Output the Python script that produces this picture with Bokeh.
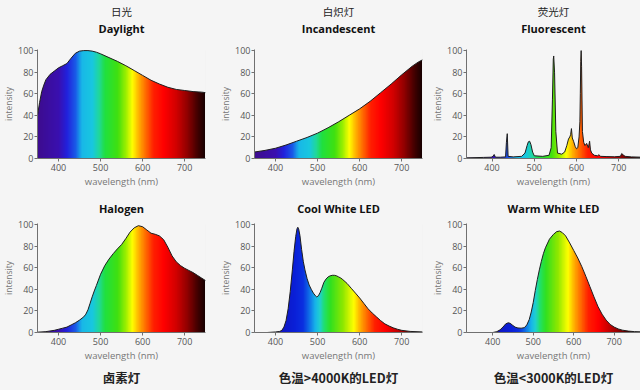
import numpy as np
from bokeh.plotting import figure
from bokeh.models import Range1d, FixedTicker, Title
from bokeh.layouts import gridplot
from bokeh.embed import file_html
from bokeh.resources import INLINE

# ---------------- data ----------------
daylight_wl = [350, 355, 360, 365, 370, 380, 390, 400, 410, 420, 430, 440, 450, 460, 470, 480, 490,
               500, 520, 540, 560, 580, 600, 620, 640, 660, 680, 700, 720, 740, 750]
daylight_val = [40, 52, 62, 68, 73, 78, 81, 84, 86, 88, 93, 97.5, 99.5, 100, 100, 99.5, 98.5,
                97, 93.5, 90, 86, 81.5, 77, 72.5, 69, 66, 64, 63, 62, 61.5, 61]

incand_wl = [350, 375, 400, 425, 450, 475, 500, 525, 550, 575, 600, 625, 650, 675, 700, 725, 740, 750]
incand_val = [6, 7.5, 9.5, 12.5, 16, 19.5, 23.5, 28.5, 34, 40, 46, 53, 61, 69, 77.5, 85.5, 89.5, 91.5]

fluor_wl = [330, 380, 398, 402, 405, 408, 420, 432, 434, 436, 438, 450, 470, 478, 483, 486, 489, 492,
            496, 500, 520, 535, 540, 543, 545, 546, 548, 551, 555, 565, 572, 577, 581, 584, 586, 588,
            590, 593, 597, 600, 603, 606, 608, 609, 610, 611, 612, 614, 617, 620, 624, 628, 631, 633,
            636, 642, 650, 653, 657, 670, 690, 704, 707, 710, 715, 730, 770]
fluor_val = [0.5, 1, 1.2, 2, 3.7, 1.2, 1.2, 1.5, 15, 23, 2, 1.5, 2, 5, 12, 15.5, 16, 13,
             6, 2.5, 2, 3, 10, 55, 92, 95, 80, 25, 5, 4, 6, 12, 18, 20, 22, 27.7,
             19, 16, 11, 9, 10, 20, 34, 60, 90, 100, 85, 25, 15, 12, 14, 10, 16, 8,
             5, 3, 2.5, 3.5, 2, 1.8, 1.6, 2, 4.6, 3.5, 2, 1.5, 1]

halogen_wl = [350, 370, 390, 400, 410, 420, 430, 440, 450, 460, 465, 470, 475, 480, 485, 490, 500,
              510, 520, 530, 540, 550, 560, 570, 580, 590, 600, 610, 620, 630, 640, 650, 660, 670,
              680, 690, 700, 710, 720, 730, 740, 750]
halogen_val = [0.3, 0.8, 2, 3, 4, 5, 7, 9, 11.5, 14.5, 17, 21, 27, 33, 38.5, 43.5, 54,
               62, 68, 73, 77.5, 81.5, 87, 93, 97, 99, 98, 95, 92, 91, 89.5, 86, 79, 71,
               65.5, 62, 59.5, 57.5, 55.5, 53, 50.5, 48]

cool_wl = [350, 380, 400, 410, 415, 420, 425, 430, 435, 440, 444, 448, 451, 453, 455, 458, 462, 466,
           470, 475, 480, 485, 490, 495, 498, 502, 506, 510, 515, 520, 525, 530, 535, 540, 545, 550,
           555, 560, 570, 580, 590, 600, 610, 620, 630, 640, 650, 660, 670, 680, 690, 700, 720, 750]
cool_val = [0, 0, 0.5, 1, 2, 5, 11, 22, 38, 58, 75, 89, 96, 97.5, 96, 90, 77, 66,
            58, 50, 44, 40, 36.5, 34, 33, 34, 37, 41, 46.5, 49.5, 51.5, 52.5, 53, 53, 52.5, 51.5,
            50.5, 49, 45.5, 41, 36.5, 32, 27, 22, 18, 14.5, 11, 8, 6, 4.3, 3, 2, 1, 0.5]

warm_wl = [330, 380, 400, 410, 418, 425, 432, 438, 443, 448, 455, 462, 470, 478, 484, 490, 495, 500,
           505, 510, 515, 520, 525, 530, 540, 550, 558, 565, 572, 580, 590, 600, 610, 620, 630, 640,
           650, 660, 670, 680, 690, 700, 710, 720, 735, 750, 770]
warm_val = [0, 0, 0, 0.8, 2.5, 5, 8, 9, 8.5, 7, 5, 4.2, 4, 4.5, 7, 12, 19, 28,
            39, 49, 58, 66, 73, 78.5, 86.5, 91, 93.5, 94, 92.5, 89.5, 83, 76, 69, 61, 52, 42.5,
            33, 24, 17, 11.5, 7.5, 5, 3.3, 2.2, 1.3, 0.8, 0.5]

x_ticks = [400, 500, 600, 700]
y_ticks = [0, 20, 40, 60, 80, 100]

# colour of the visible spectrum (style): lamps and LED panels use slightly different palettes
lamp_stop_wl = [330, 350, 400, 420, 440, 455, 480, 495, 510, 540, 560, 575, 590, 605, 625, 650, 680, 705, 730, 750, 770]
lamp_stop_hex = ["#3d0c8f", "#3d0c8f", "#3a10b0", "#2222dd", "#1a5ae8", "#18b8e8", "#18c8e0", "#20d8a0",
                 "#20e040", "#40e010", "#a0f000", "#ffff00", "#ffb000", "#ff7000", "#ff2000", "#ff0000",
                 "#d00000", "#900000", "#400000", "#100000", "#100000"]
led_stop_wl = [330, 400, 420, 445, 465, 480, 495, 505, 515, 530, 560, 585, 600, 615, 635, 660, 690, 715, 740, 760, 770]
led_stop_hex = ["#1a0a80", "#1a10a0", "#1018c8", "#0a20d8", "#0a30e0", "#1070e8", "#18b8e8", "#20d0d0",
                "#20e070", "#30e020", "#90e800", "#ffff00", "#ffb000", "#ff7000", "#ff2000", "#ff0000",
                "#c00000", "#800000", "#300000", "#100000", "#100000"]

BG = "#f5f5f5"
FONT = "Open Sans"
ZH_FONT = "Noto Sans CJK SC"
YTOP = 101
LEFT = 32


def spectrum_strip(x0, x1, stop_wl, stop_hex, n=400):
    """1-row RGBA image of the spectrum colours between x0 and x1 (colour styling only)."""
    stop_rgb = np.array([[int(h[i:i + 2], 16) for i in (1, 3, 5)] for h in stop_hex], dtype=float)
    cols = x0 + (np.arange(n) + 0.5) * (x1 - x0) / n
    strip = np.zeros((1, n, 4), dtype=np.uint8)
    for c in range(3):
        strip[0, :, c] = np.interp(cols, stop_wl, stop_rgb[:, c]).astype(np.uint8)
    strip[0, :, 3] = 255
    return strip.view(dtype=np.uint32).reshape((1, n))


def panel(wl, val, xr, width, right_border, title_en, title_zh, top_row, led=False):
    p = figure(width=width, height=190 if top_row else 200,
               x_range=Range1d(*xr), y_range=Range1d(0, YTOP),
               output_backend="svg", toolbar_location=None,
               background_fill_color=BG, border_fill_color=BG,
               min_border_left=LEFT, min_border_right=right_border,
               min_border_top=49 if top_row else 33,
               min_border_bottom=32 if top_row else 58)
    p.styles = {"background-color": BG}
    p.outline_line_color = None
    p.grid.visible = False

    # colour strip stops half a pixel short of the frame's right edge so that the
    # mask fully hides it above the curve (avoids a faint edge line)
    frame_w = width - LEFT - right_border
    inset = 0.5 * (xr[1] - xr[0]) / frame_w
    x_end = xr[1] - inset
    stops = (led_stop_wl, led_stop_hex) if led else (lamp_stop_wl, lamp_stop_hex)
    p.image_rgba(image=[spectrum_strip(xr[0], x_end, *stops)], x=xr[0], y=0, dw=x_end - xr[0], dh=100)
    p.varea(x=wl, y1=val, y2=[YTOP + 50] * len(wl), fill_color=BG)
    p.line(wl, val, line_color="#1e1e1e", line_width=1)

    p.xaxis.ticker = FixedTicker(ticks=x_ticks)
    p.yaxis.ticker = FixedTicker(ticks=y_ticks)
    for ax in (p.xaxis[0], p.yaxis[0]):
        ax.axis_line_color = "#707070"
        ax.major_tick_line_color = "#707070"
        ax.major_tick_out = 3
        ax.major_tick_in = 0
        ax.minor_tick_line_color = None
        ax.major_label_text_font = FONT
        ax.major_label_text_font_size = "9px"
        ax.major_label_text_color = "#555555"
        ax.axis_label_text_font = FONT
        ax.axis_label_text_font_style = "normal"
        ax.axis_label_text_color = "#777777"
    p.xaxis.axis_label = "wavelength (nm)"
    p.xaxis.axis_label_text_font_size = "9.5px"
    p.xaxis.major_label_standoff = 2
    p.xaxis.axis_label_standoff = 1
    p.yaxis.axis_label = "intensity"
    p.yaxis.axis_label_text_font_size = "8.5px"
    p.yaxis.major_label_standoff = 1
    p.yaxis.axis_label_standoff = 1

    # spacer between frame and the English title
    p.add_layout(Title(text=" ", text_font_size="11.5px" if top_row else "5px", standoff=0), "above")
    p.add_layout(Title(text=title_en, align="center", text_font=FONT, text_font_size="11px",
                       text_font_style="bold", text_color="#111111", standoff=0), "above")
    if top_row:
        p.add_layout(Title(text=title_zh, align="center", text_font=ZH_FONT, text_font_size="10.5px",
                           text_font_style="normal", text_color="#222222", standoff=0), "above")
    else:
        p.add_layout(Title(text=title_zh, align="center", text_font=ZH_FONT, text_font_size="12.5px",
                           text_font_style="bold", text_color="#222222", standoff=3), "below")
    return p


p1 = panel(daylight_wl, daylight_val, (350, 749.5), 217, 12, "Daylight", "日光", True)
p2 = panel(incand_wl, incand_val, (350, 749.5), 212, 7, "Incandescent", "白炽灯", True)
p3 = panel(fluor_wl, fluor_val, (339.5, 751.5), 211, 0, "Fluorescent", "荧光灯", True)
p4 = panel(halogen_wl, halogen_val, (350, 749.5), 217, 12, "Halogen", "卤素灯", False)
p5 = panel(cool_wl, cool_val, (350, 749.5), 212, 7, "Cool White LED", "色温>4000K的LED灯", False, led=True)
p6 = panel(warm_wl, warm_val, (335, 765), 211, 0, "Warm White LED", "色温<3000K的LED灯", False, led=True)

grid = gridplot([[p1, p2, p3], [p4, p5, p6]], toolbar_location=None)
grid.styles = {"background-color": BG}

html = file_html(grid, INLINE)
html = html.replace("<body>", '<body style="background-color:#f5f5f5;">', 1)
open("out.html", "w").write(html)
